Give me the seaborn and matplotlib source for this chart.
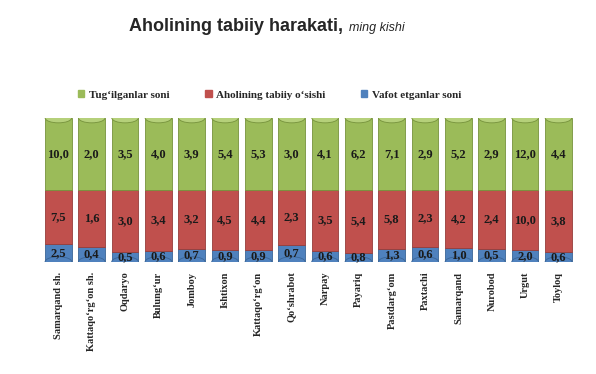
import numpy as np
import pandas as pd
import matplotlib
matplotlib.use("Agg")
import matplotlib.pyplot as plt
import seaborn as sns
from matplotlib.patches import Patch, Ellipse

# Ma'lumotlar (ming kishi)
hududlar = ["Samarqand sh.", "Kattaqo\u2018rg\u2018on sh.", "Oqdaryo", "Bulung\u2018ur", "Jomboy",
            "Ishtixon", "Kattaqo\u2018rg\u2018on", "Qo\u2018shrabot", "Narpay", "Payariq",
            "Pastdarg\u2018om", "Paxtachi", "Samarqand", "Nurobod", "Urgut", "Toyloq"]
vafot = [2.5, 0.4, 0.5, 0.6, 0.7, 0.9, 0.9, 0.7, 0.6, 0.8, 1.3, 0.6, 1.0, 0.5, 2.0, 0.6]
osish = [7.5, 1.6, 3.0, 3.4, 3.2, 4.5, 4.4, 2.3, 3.5, 5.4, 5.8, 2.3, 4.2, 2.4, 10.0, 3.8]
tugilgan = [10.0, 2.0, 3.5, 4.0, 3.9, 5.4, 5.3, 3.0, 4.1, 6.2, 7.1, 2.9, 5.2, 2.9, 12.0, 4.4]

df = pd.DataFrame({"hudud": hududlar, "vafot": vafot, "osish": osish, "tugilgan": tugilgan})
jami = df["vafot"] + df["osish"] + df["tugilgan"]
df["p_vafot"] = df["vafot"] / jami * 100
df["p_osish"] = df["osish"] / jami * 100
df["p_tugilgan"] = df["tugilgan"] / jami * 100

sns.set_theme(style="white")
plt.rcParams["font.family"] = ["Liberation Serif", "DejaVu Serif"]

fig = plt.figure(figsize=(5.96, 3.74), dpi=100)
ax = fig.add_axes([0.07, 0.30, 0.895, 0.385])

ranglar = {"vafot": "#4F81BD", "osish": "#C0504D", "tugilgan": "#9BBB59"}

sns.barplot(data=df, x="hudud", y="p_vafot", color=ranglar["vafot"], width=0.8,
            edgecolor="#3A6596", linewidth=0.6, saturation=1, ax=ax)
sns.barplot(data=df, x="hudud", y="p_osish", bottom=df["p_vafot"], color=ranglar["osish"],
            width=0.8, edgecolor="#963C3A", linewidth=0.6, saturation=1, ax=ax)
sns.barplot(data=df, x="hudud", y="p_tugilgan", bottom=df["p_vafot"] + df["p_osish"],
            color=ranglar["tugilgan"], width=0.8, edgecolor="#76923C", linewidth=0.6,
            saturation=1, ax=ax)

# Silindr ko'rinishi: yuqori qopqoq va pastki yoy
n = len(df)
for p in ax.patches[:n]:
    ax.add_patch(Ellipse((p.get_x() + p.get_width() / 2, p.get_y()), p.get_width(), 7,
                         facecolor=ranglar["vafot"], edgecolor="#3A6596", lw=0.6, zorder=1))
for p in ax.patches[2 * n:3 * n]:
    ax.add_patch(Ellipse((p.get_x() + p.get_width() / 2, p.get_y() + p.get_height()),
                         p.get_width(), 7, facecolor="#B5D07A", edgecolor="#76923C",
                         lw=0.6, zorder=3))

# Qiymat yorliqlari
fmt = lambda v: f"{v:.1f}".replace(".", ",")
for i, r in df.iterrows():
    ax.text(i, r["p_vafot"] / 2, fmt(r["vafot"]), ha="center", va="center",
            fontsize=9, fontweight="bold", color="#1a1a1a", zorder=4)
    ax.text(i, r["p_vafot"] + r["p_osish"] / 2, fmt(r["osish"]), ha="center", va="center",
            fontsize=9, fontweight="bold", color="#1a1a1a", zorder=4)
    ax.text(i, r["p_vafot"] + r["p_osish"] + r["p_tugilgan"] / 2, fmt(r["tugilgan"]),
            ha="center", va="center", fontsize=9, fontweight="bold", color="#1a1a1a", zorder=4)

ax.set_ylim(0, 100)
ax.set_xlim(-0.5, n - 0.5)
ax.set_xlabel("")
ax.set_ylabel("")
ax.set_yticks([])
ax.set_xticks(range(n))
ax.set_xticklabels(df["hudud"], rotation=90, fontsize=7.5, fontweight="bold", va="top")
ax.tick_params(axis="x", length=0, pad=7)
sns.despine(ax=ax, left=True, bottom=True)
for s in ax.spines.values():
    s.set_visible(False)

# Sarlavha
fig.text(0.576, 0.93, "Aholining tabiiy harakati,", ha="right", va="center",
         fontsize=13, fontweight="bold", family=["Liberation Sans", "DejaVu Sans"])
fig.text(0.586, 0.926, "ming kishi", ha="left", va="center", fontsize=9,
         style="italic", family=["Liberation Sans", "DejaVu Sans"])

# Legenda
elementlar = [Patch(color=ranglar["tugilgan"], label="Tug\u2018ilganlar soni"),
              Patch(color=ranglar["osish"], label="Aholining tabiiy o\u2018sishi"),
              Patch(color=ranglar["vafot"], label="Vafot etganlar soni")]
fig.legend(handles=elementlar, loc="center", bbox_to_anchor=(0.452, 0.746), ncol=3,
           frameon=False, prop={"size": 8, "weight": "bold"}, handlelength=0.6,
           handleheight=0.6, handletextpad=0.4, columnspacing=3.2)

fig.savefig("out.png", dpi=100)
